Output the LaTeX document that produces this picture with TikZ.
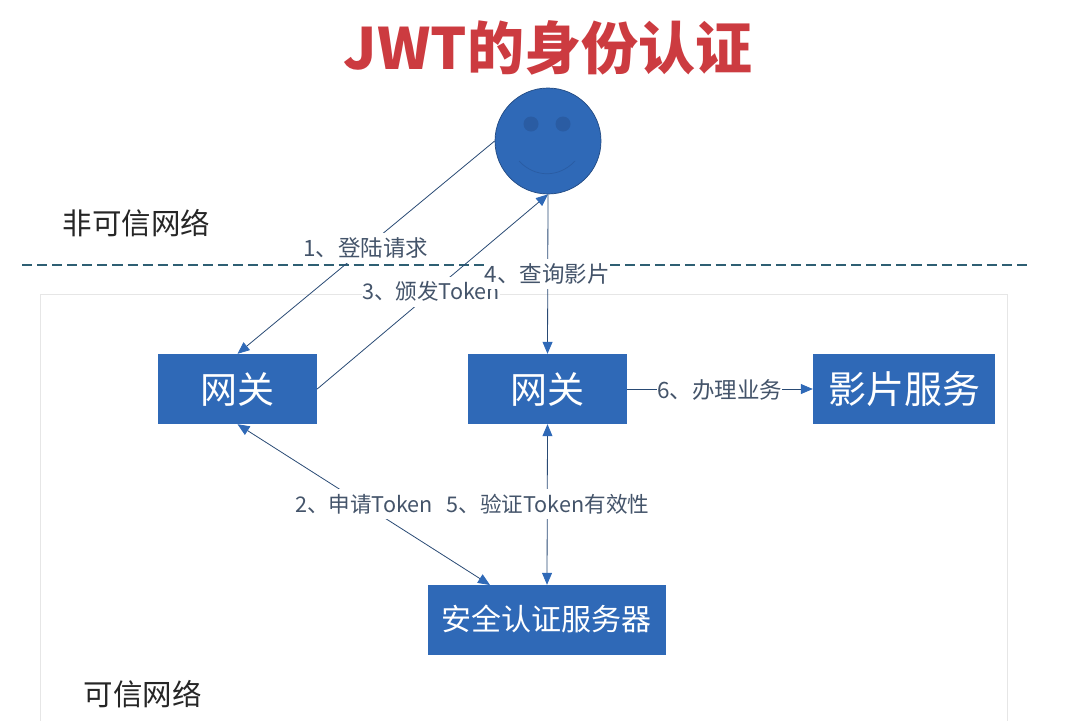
\documentclass[tikz,border=0pt]{standalone}
\usepackage{fontspec}
\setmainfont{Noto Sans CJK SC}
\usetikzlibrary{arrows.meta}
\definecolor{boxblue}{HTML}{2F69B7}
\definecolor{edgeblue}{HTML}{3A6AA6}
\definecolor{inkblue}{HTML}{44546A}
\definecolor{eyeblue}{HTML}{2A5CA3}
\definecolor{titlered}{HTML}{CC3B40}
\definecolor{dashteal}{HTML}{2E5F73}
\definecolor{zonegray}{HTML}{E6E6E6}
\tikzset{
  bluebox/.style={fill=boxblue,draw=none,text=white,inner sep=0pt,anchor=center},
  link/.style={draw=edgeblue!70!black,line width=0.8pt,
     {Triangle[length=12pt,width=10pt,color=boxblue]}-{Triangle[length=12pt,width=10pt,color=boxblue]}},
  oneway/.style={draw=edgeblue!70!black,line width=0.8pt,
     -{Triangle[length=12pt,width=10pt,color=boxblue]}},
  steplabel/.style={fill=white,text=inkblue,font=\fontsize{22.5}{26}\selectfont,inner sep=0pt,minimum height=30pt},
  tokenlabel/.style={steplabel,font=\fontsize{21.6}{26}\selectfont},
  zonelabel/.style={text=black!85,font=\fontsize{29.5}{34}\selectfont,inner sep=0pt},
}
\begin{document}
\begin{tikzpicture}[x=1pt,y=-1pt]
\useasboundingbox (0,0) rectangle (1086,721);
% trusted zone
\draw[zonegray,line width=1pt] (40,721) -- (40,294) -- (1007,294) -- (1007,721);
% dashed boundary
\coordinate (dashL) at (22,265);
\coordinate (dashR) at (1027,265);
\draw[dashteal,line width=1.8pt,dash pattern=on 10.076pt off 5pt] (dashL) -- (dashR);
% title
\node[inner sep=0pt,text=titlered] (title) at (548,48) {\bfseries\fontsize{57}{64}\selectfont JWT的身份认证};
% smiley
\node[circle,fill=boxblue,draw=eyeblue!80!black,line width=0.7pt,minimum size=106pt,inner sep=0pt] (user) at (548,141) {};
\node[circle,fill=eyeblue,minimum size=15pt,inner sep=0pt] (eyeL) at (531,124) {};
\node[circle,fill=eyeblue,minimum size=15pt,inner sep=0pt] (eyeR) at (563,124) {};
\coordinate (smileL) at (519,161);
\coordinate (smileR) at (575,161);
\draw[eyeblue,line width=0.7pt] (smileL) .. controls (535,178) and (559,178) .. (smileR);
% boxes
\node[bluebox,minimum width=159pt,minimum height=70pt,font=\fontsize{37}{42}\selectfont] (gwA) at (237.5,389) {网关};
\node[bluebox,minimum width=159pt,minimum height=70pt,font=\fontsize{37}{42}\selectfont] (gwB) at (547.5,389) {网关};
\node[bluebox,minimum width=182pt,minimum height=70pt,font=\fontsize{38}{42}\selectfont] (film) at (904,389) {影片服务};
\node[bluebox,minimum width=238pt,minimum height=70pt] (auth) at (547,620) {};
\node[text=white,inner sep=0pt,font=\fontsize{30}{34}\selectfont] (authText) at (546,618.5) {安全认证服务器};
\coordinate (authIn) at (490,585);
% connectors
\draw[oneway] (user.west) -- (gwA.north);
\draw[oneway] (gwA.east) -- (user.south);
\draw[oneway] (user.south) -- (gwB.north);
\draw[oneway] (gwB.east) -- (film.west);
\draw[link] (gwA.south) -- (authIn);
\draw[link] (gwB.south) -- (auth.north);
% labels
\node[steplabel] (l1) at (366,247.5) {1、登陆请求};
\node[tokenlabel] (l3) at (431,291.5) {3、颁发Token};
\node[steplabel] (l4) at (547,273.5) {4、查询影片};
\node[steplabel] (l6) at (719.5,390) {6、办理业务};
\node[tokenlabel] (l2) at (364,504) {2、申请Token};
\node[tokenlabel] (l5) at (548,504) {5、验证Token有效性};
\node[zonelabel] (untrusted) at (136.5,223) {非可信网络};
\node[zonelabel] (trusted) at (142.5,694) {可信网络};
\end{tikzpicture}
\end{document}
